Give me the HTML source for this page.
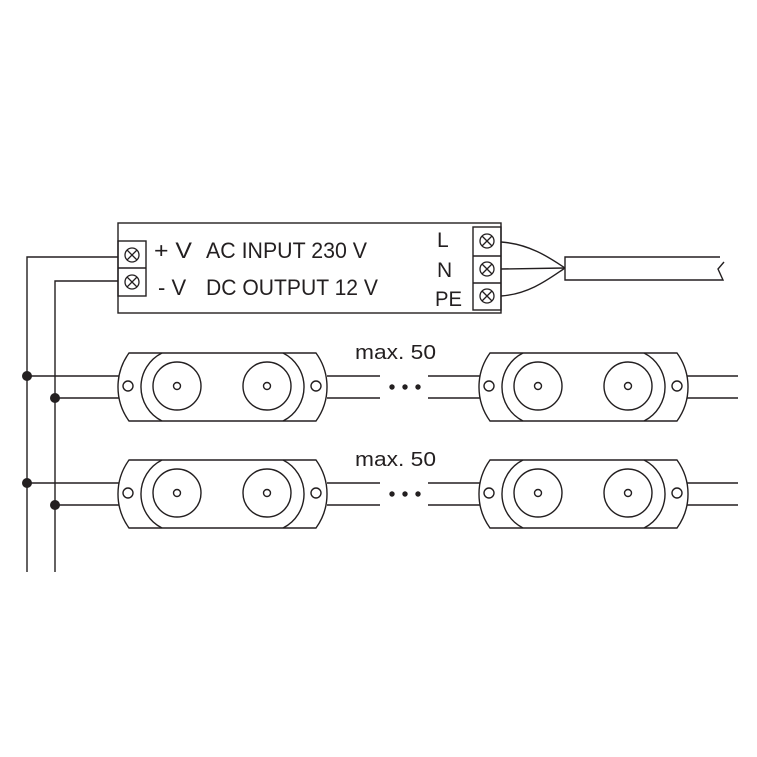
<!DOCTYPE html>
<html><head><style>
html,body{margin:0;padding:0;background:#fff}
svg{display:block}
text{font-family:"Liberation Sans",sans-serif;fill:#231f20}
</style></head><body>
<svg width="757" height="757" viewBox="0 0 757 757" xmlns="http://www.w3.org/2000/svg">
<defs>
<g id="term">
<circle cx="0" cy="0" r="7" fill="none" stroke="#231f20" stroke-width="1.3"/>
<path d="M-5,-5 L5,5 M5,-5 L-5,5" stroke="#231f20" stroke-width="1.3"/>
</g>
<g id="mod" fill="none" stroke="#231f20" stroke-width="1.4">
<path d="M12,0 L199,0 A58,58 0 0 1 199,68 L12,68 A58,58 0 0 1 12,0 Z" fill="#fff"/>
<path d="M45,0 A38,38 0 0 0 45,68"/>
<path d="M166,0 A38,38 0 0 1 166,68"/>
<circle cx="60" cy="33" r="24"/>
<circle cx="60" cy="33" r="3.5"/>
<circle cx="150" cy="33" r="24"/>
<circle cx="150" cy="33" r="3.5"/>
<circle cx="11" cy="33" r="5"/>
<circle cx="199" cy="33" r="5"/>
</g>
</defs>
<g stroke="#231f20" stroke-width="1.4" fill="none">
<path d="M27,572 L27,257 L118,257"/>
<path d="M55,572 L55,281 L118,281"/>
<path d="M27,376 H120 M55,398 H120 M327,376 H380 M327,398 H380 M428,376 H480 M428,398 H480 M686,376 H738 M686,398 H738"/>
<path d="M27,483 H120 M55,505 H120 M327,483 H380 M327,505 H380 M428,483 H480 M428,505 H480 M686,483 H738 M686,505 H738"/>
<rect x="118" y="223" width="383" height="90" fill="#fff"/>
<rect x="118" y="241" width="28" height="55"/>
<line x1="118" y1="268" x2="146" y2="268"/>
<rect x="473" y="227" width="28" height="83"/>
<line x1="473" y1="256" x2="501" y2="256"/>
<line x1="473" y1="283" x2="501" y2="283"/>
<path d="M501,242 C530,244 550,258 565,268"/>
<path d="M501,269 L565,268"/>
<path d="M501,296 C530,294 550,278 565,268"/>
<path d="M720,257 L565,257 L565,280 L723,280 L718,269 L724,262"/>
</g>
<use href="#term" x="132" y="255"/>
<use href="#term" x="132" y="282"/>
<use href="#term" x="487" y="241"/>
<use href="#term" x="487" y="269"/>
<use href="#term" x="487" y="296"/>
<use href="#mod" x="117" y="353"/>
<use href="#mod" x="478" y="353"/>
<use href="#mod" x="117" y="460"/>
<use href="#mod" x="478" y="460"/>
<g fill="#231f20">
<circle cx="27" cy="376" r="5"/><circle cx="55" cy="398" r="5"/>
<circle cx="27" cy="483" r="5"/><circle cx="55" cy="505" r="5"/>
<circle cx="392" cy="387" r="2.7"/><circle cx="405" cy="387" r="2.7"/><circle cx="418" cy="387" r="2.7"/>
<circle cx="392" cy="494" r="2.7"/><circle cx="405" cy="494" r="2.7"/><circle cx="418" cy="494" r="2.7"/>
</g>
<text x="154" y="258" font-size="22" textLength="38" lengthAdjust="spacingAndGlyphs">+ V</text>
<text x="206" y="258" font-size="22" textLength="161" lengthAdjust="spacingAndGlyphs">AC INPUT 230 V</text>
<text x="158" y="295" font-size="22">-  V</text>
<text x="206" y="295" font-size="22" textLength="172" lengthAdjust="spacingAndGlyphs">DC OUTPUT 12 V</text>
<text x="437" y="247" font-size="21">L</text>
<text x="437" y="277" font-size="21">N</text>
<text x="435" y="306" font-size="21" textLength="27" lengthAdjust="spacingAndGlyphs">PE</text>
<text x="355" y="359" font-size="20" textLength="81" lengthAdjust="spacingAndGlyphs">max. 50</text>
<text x="355" y="466" font-size="20" textLength="81" lengthAdjust="spacingAndGlyphs">max. 50</text>
</svg>
</body></html>
